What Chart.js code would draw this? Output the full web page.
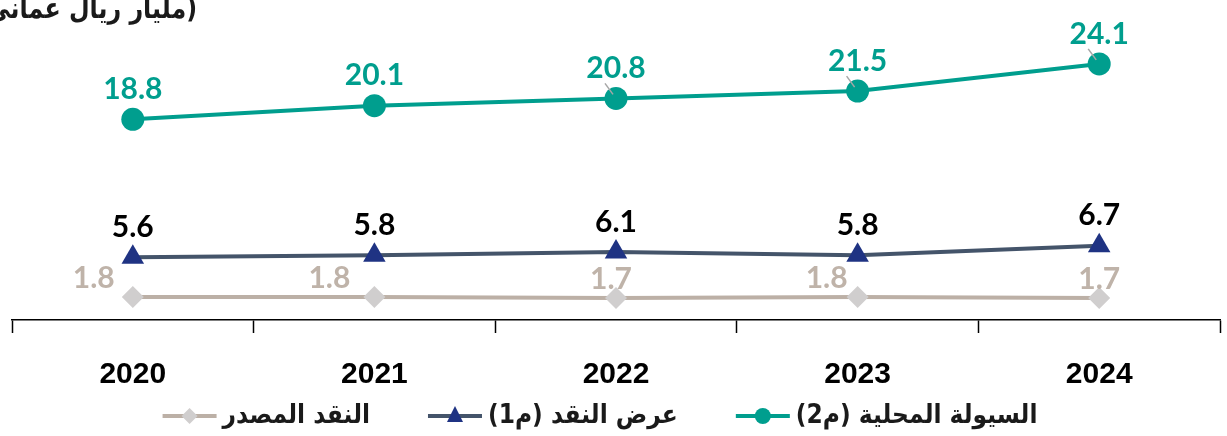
<!DOCTYPE html>
<html>
<head>
<meta charset="utf-8">
<script src="https://cdn.jsdelivr.net/npm/chart.js@4"></script>
<style>
  body { margin: 0; background: #fff; }
  canvas { display: block; }
</style>
</head>
<body>
<canvas id="myChart" width="1227" height="436"></canvas>
<script>
const years = ['2020', '2021', '2022', '2023', '2024'];
const liquidity = [18.8, 20.1, 20.8, 21.5, 24.1];   // م2
const moneySupply = [5.6, 5.8, 6.1, 5.8, 6.7];      // م1
const currency = [1.8, 1.8, 1.7, 1.8, 1.7];         // النقد المصدر
const seriesNames = ['السيولة المحلية (م2)', 'عرض النقد (م1)', 'النقد المصدر'];
const unitTitle = '(مليار ريال عماني)';

const teal = '#009e8e';
const slate = '#44546a';
const navy = '#1f3383';
const tan = '#bcb0a6';
const diamond = '#d0cece';
const grayText = '#bfb3a9';

// label offsets for the gray series (they sit up-left of the point)
const grayOffsets = [[-39, -19], [-45, -19], [-5, -19], [-31, -19], [0, -19]];

const labelsPlugin = {
  id: 'labels',
  afterDatasetsDraw(chart) {
    const ctx = chart.ctx;
    ctx.save();
    ctx.textAlign = 'center';
    ctx.textBaseline = 'middle';

    // small leader lines on the last teal points
    const m0 = chart.getDatasetMeta(0);
    [2, 3, 4].forEach(i => {
      const p = m0.data[i];
      ctx.strokeStyle = '#a6a6a6';
      ctx.lineWidth = 1.5;
      ctx.beginPath();
      ctx.moveTo(p.x - 11, p.y - 15);
      ctx.lineTo(p.x - 3, p.y - 4);
      ctx.stroke();
    });

    ctx.font = 'bold 30px Lato';
    m0.data.forEach((p, i) => {
      ctx.fillStyle = teal;
      ctx.fillText(liquidity[i].toFixed(1), p.x, p.y - 30);
    });
    chart.getDatasetMeta(1).data.forEach((p, i) => {
      ctx.fillStyle = '#000';
      ctx.fillText(moneySupply[i].toFixed(1), p.x, p.y - 30);
    });
    chart.getDatasetMeta(2).data.forEach((p, i) => {
      ctx.fillStyle = grayText;
      ctx.fillText(currency[i].toFixed(1), p.x + grayOffsets[i][0], p.y + grayOffsets[i][1]);
    });

    // unit title, cut at the top left like the original (condensed)
    ctx.save();
    ctx.fillStyle = '#1a1a1a';
    ctx.textAlign = 'right';
    ctx.font = 'bold 29px "DejaVu Sans"';
    ctx.translate(197, 10);
    ctx.scale(0.82, 1);
    ctx.fillText(unitTitle, 0, 0);
    ctx.restore();

    // legend (symbol on the left of each text, items right to left)
    const sx0 = 0.9;
    ctx.font = 'bold 26px "DejaVu Sans"';
    ctx.textBaseline = 'middle';
    const ly = 416;
    const symW = 54;
    const gapSym = 6;
    const gapItem = 58;
    const widths = seriesNames.map(n => ctx.measureText(n).width * sx0);
    const total = widths.reduce((a, b) => a + b, 0) + 3 * (symW + gapSym) + 2 * gapItem;
    let x = 600 + total / 2;
    const colors = [teal, slate, tan];
    seriesNames.forEach((name, i) => {
      ctx.save();
      ctx.fillStyle = '#1a1a1a';
      ctx.textAlign = 'right';
      ctx.translate(x, ly);
      ctx.scale(sx0, 1);
      ctx.fillText(name, 0, 0);
      ctx.restore();
      x -= widths[i] + gapSym;
      const sx = x - symW;
      ctx.strokeStyle = colors[i];
      ctx.lineWidth = 4;
      ctx.beginPath();
      ctx.moveTo(sx, ly);
      ctx.lineTo(x, ly);
      ctx.stroke();
      const cx = sx + symW / 2;
      if (i === 0) {
        ctx.fillStyle = teal;
        ctx.beginPath();
        ctx.arc(cx, ly, 8, 0, Math.PI * 2);
        ctx.fill();
      } else if (i === 1) {
        ctx.fillStyle = navy;
        ctx.beginPath();
        ctx.moveTo(cx, ly - 10);
        ctx.lineTo(cx + 8, ly + 6);
        ctx.lineTo(cx - 8, ly + 6);
        ctx.closePath();
        ctx.fill();
      } else {
        ctx.fillStyle = diamond;
        ctx.beginPath();
        ctx.moveTo(cx, ly - 8);
        ctx.lineTo(cx + 8, ly);
        ctx.lineTo(cx, ly + 8);
        ctx.lineTo(cx - 8, ly);
        ctx.closePath();
        ctx.fill();
      }
      x = sx - gapItem;
    });
    ctx.restore();
  }
};

const ctx = document.getElementById('myChart');
new Chart(ctx, {
  type: 'line',
  data: {
    labels: years,
    datasets: [
      {
        label: seriesNames[0],
        data: liquidity,
        borderColor: teal,
        backgroundColor: teal,
        borderWidth: 4,
        pointStyle: 'circle',
        pointRadius: 11.5,
        pointBorderWidth: 0,
        tension: 0
      },
      {
        label: seriesNames[1],
        data: moneySupply,
        borderColor: slate,
        backgroundColor: navy,
        borderWidth: 4,
        pointStyle: 'triangle',
        pointRadius: 13,
        pointBorderWidth: 0,
        tension: 0
      },
      {
        label: seriesNames[2],
        data: currency,
        borderColor: tan,
        backgroundColor: diamond,
        borderWidth: 4,
        pointStyle: 'rectRot',
        pointRadius: 11,
        pointBorderWidth: 0,
        tension: 0
      }
    ]
  },
  options: {
    responsive: false,
    animation: false,
    layout: { autoPadding: false, padding: { top: 20, left: 12, right: 7, bottom: 0 } },
    plugins: {
      legend: { display: false },
      tooltip: { enabled: false }
    },
    scales: {
      x: {
        offset: true,
        afterFit: s => { s.height = 116; s.paddingLeft = 0; s.paddingRight = 0; },
        grid: {
          offset: true,
          drawOnChartArea: false,
          tickLength: 13,
          tickWidth: 1.5,
          tickColor: '#000'
        },
        border: { color: '#000', width: 1.5 },
        ticks: {
          color: '#000',
          padding: 24,
          font: { family: 'Liberation Sans', weight: 'bold', size: 30 }
        }
      },
      y: {
        display: false,
        min: -0.4,
        max: 28.3
      }
    }
  },
  plugins: [labelsPlugin]
});
</script>
</body>
</html>
